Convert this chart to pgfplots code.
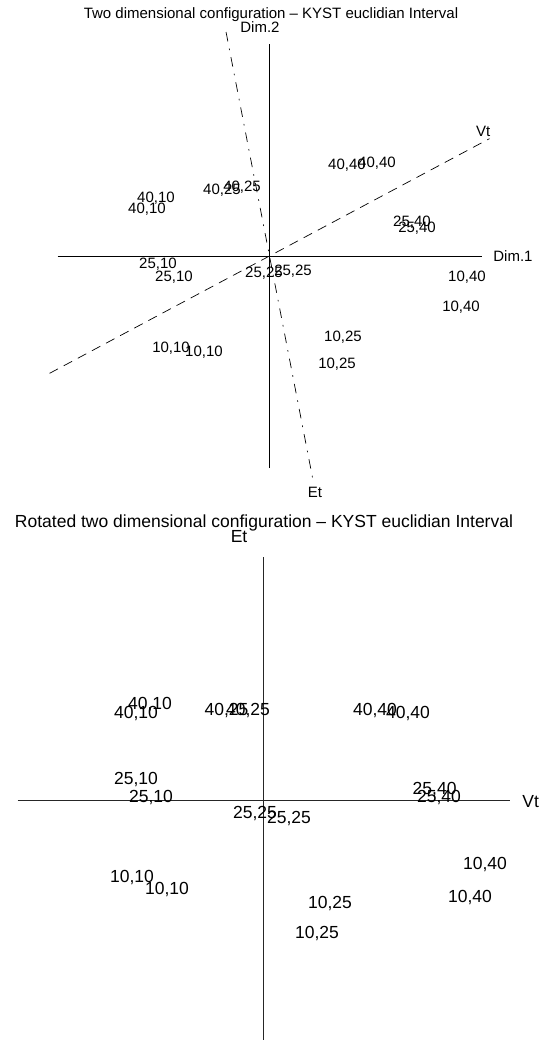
\documentclass[border=0pt]{standalone}
\usepackage{pgfplots}
\usepackage{pgfplotstable}
\pgfplotsset{compat=1.18}
\usepackage{fontspec}
\setmainfont{Liberation Sans}

\newcommand\smallfont{\fontsize{15}{15}\selectfont}
\newcommand\largefont{\fontsize{17.5}{17.5}\selectfont}

% configuration coordinates (Dim.1, Dim.2), labelled by condition
\pgfplotstableread{
x      y      label
-1.071  0.547 40,10
-1.156  0.443 40,10
-0.448  0.623 40,25
-0.259  0.651 40,25
 0.731  0.858 40,40
 1.014  0.877 40,40
 1.344  0.321 25,40
 1.392  0.264 25,40
-1.052 -0.075 25,10
-0.901 -0.198 25,10
-0.052 -0.158 25,25
 0.222 -0.142 25,25
 1.863 -0.198 10,40
 1.807 -0.481 10,40
 0.693 -0.764 10,25
 0.637 -1.019 10,25
-0.929 -0.868 10,10
-0.618 -0.906 10,10
}\configuration

% rotated configuration (Vt, Et)
\pgfplotstableread{
x      y      label
-0.923  0.786 40,10
-1.037  0.705 40,10
-0.301  0.737 40,25
-0.126  0.737 40,25
 0.907  0.737 40,40
 1.175  0.705 40,40
 1.391  0.095 25,40
 1.427  0.030 25,40
-1.037  0.176 25,10
-0.915  0.022 25,10
-0.069 -0.108 25,25
 0.207 -0.141 25,25
 1.801 -0.515 10,40
 1.679 -0.783 10,40
 0.541 -0.832 10,25
 0.435 -1.083 10,25
-1.069 -0.628 10,10
-0.785 -0.718 10,10
}\rotated

\pgfplotsset{
  config/.style={
    hide axis, clip=false, anchor=origin,
    xmin=-2.5, xmax=2.5, ymin=-2.4, ymax=2.4,
  },
  labels/.style={
    draw=none, mark=none, nodes near coords,
    point meta=explicit symbolic,
    every node near coord/.append style={anchor=center, inner sep=0pt, font=#1},
  },
}

\begin{document}
\begin{tikzpicture}[x=1pt,y=1pt]
\useasboundingbox (0,0) rectangle (548,-1040);

% first panel: raw two dimensional solution
\begin{axis}[config, at={(269.5pt,-256pt)}, x=106pt, y=106pt]
\addplot[black, line width=0.9pt] coordinates {(-2,0) (2,0)};
\addplot[black, line width=0.9pt] coordinates {(0,-2) (0,2)};
\addplot[black, line width=0.7pt, dash pattern=on 9.5pt off 6.5pt]
  coordinates {(-2.075,-1.107) (2.075,1.107)};
\addplot[black, line width=0.7pt, dash pattern=on 9.6pt off 7.2pt on 1.6pt off 7.2pt]
  coordinates {(-0.410,2.113) (0.410,-2.113)};
\addplot[labels=\smallfont] table[x=x, y=y, meta=label] {\configuration};
\node[font=\smallfont, inner sep=0pt] at (axis cs:0.014,2.274)
  {Two dimensional configuration -- KYST euclidian Interval};
\node[font=\smallfont, inner sep=0pt] at (axis cs:2.297,0) {Dim.1};
\node[font=\smallfont, inner sep=0pt] at (axis cs:-0.090,2.160) {Dim.2};
\node[font=\smallfont, inner sep=0pt] at (axis cs:2.017,1.173) {Vt};
\node[font=\smallfont, inner sep=0pt] at (axis cs:0.429,-2.226) {Et};
\end{axis}

% second panel: solution rotated onto the Vt and Et directions
\begin{axis}[config, at={(263.5pt,-800.7pt)}, x=123pt, y=123pt]
\addplot[black!85, line width=0.9pt] coordinates {(-2,0) (2.004,0)};
\addplot[black!85, line width=0.9pt] coordinates {(0,-1.95) (0,1.981)};
\addplot[labels=\largefont] table[x=x, y=y, meta=label] {\rotated};
\node[font=\largefont, inner sep=0pt] at (axis cs:0.004,2.258)
  {Rotated two dimensional configuration -- KYST euclidian Interval};
\node[font=\largefont, inner sep=0pt] at (axis cs:2.172,-0.008) {Vt};
\node[font=\largefont, inner sep=0pt] at (axis cs:-0.199,2.144) {Et};
\end{axis}
\end{tikzpicture}
\end{document}
